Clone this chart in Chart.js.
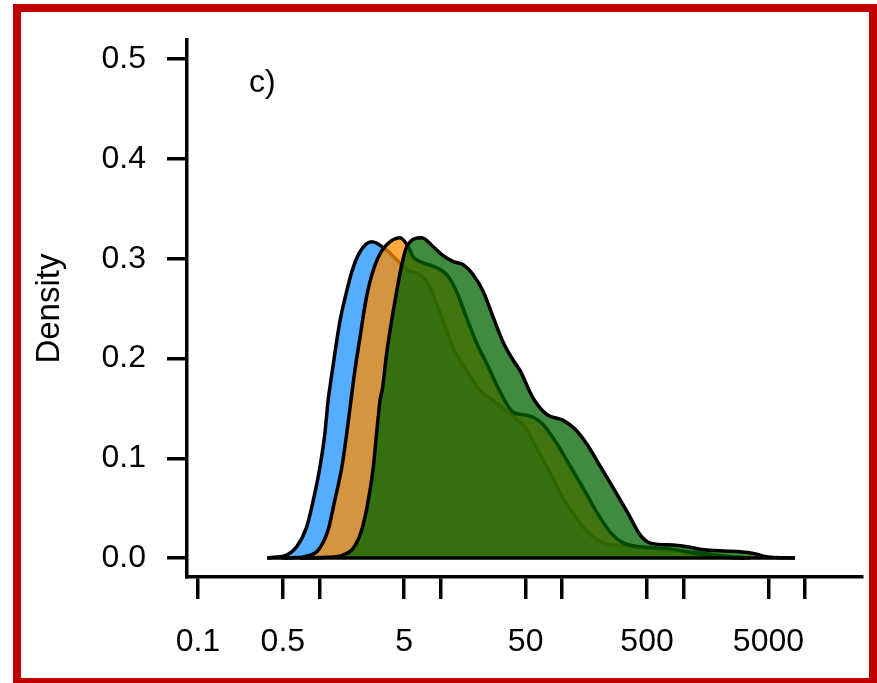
<!DOCTYPE html>
<html>
<head>
<meta charset="utf-8">
<script src="https://cdn.jsdelivr.net/npm/chart.js@4/dist/chart.umd.min.js"></script>
<style>
  html, body { margin: 0; padding: 0; background: #fff; }
  canvas { display: block; }
</style>
</head>
<body>
<canvas id="c" width="877" height="683"></canvas>
<script>
// ---- data ----
const blueX = [0.372,0.415,0.538,0.650,0.785,0.891,1.01,1.11,1.18,1.22,1.34,1.48,1.63,1.85,2.16,2.70,3.47,4.33,5.24,6.74,7.66,8.63,10.4,12.6,16.3,21.0,26.9,39.3,49.5,61.0,80.0,104,134,172,220,383,726,1365,2410,3520];
const blueY = [0,0.0007,0.003,0.0113,0.031,0.058,0.091,0.125,0.158,0.171,0.205,0.238,0.261,0.287,0.307,0.317,0.310,0.299,0.289,0.284,0.277,0.264,0.238,0.211,0.188,0.168,0.158,0.142,0.131,0.111,0.085,0.058,0.038,0.023,0.015,0.0113,0.008,0.005,0.0015,0];

const orangeX = [0.49,0.607,0.785,0.98,1.18,1.34,1.53,1.68,1.79,1.96,2.16,2.38,2.61,3.04,3.58,4.61,5.40,5.90,7.13,9.25,11.2,13.5,16.3,19.8,23.9,30.7,39.6,52.0,68.0,90.0,118,152,195,252,320,437,726,1194,1874,3205];
const orangeY = [0,0.0003,0.002,0.008,0.028,0.058,0.091,0.125,0.151,0.188,0.221,0.254,0.277,0.301,0.314,0.321,0.312,0.302,0.296,0.291,0.284,0.267,0.241,0.215,0.195,0.167,0.146,0.143,0.135,0.115,0.091,0.068,0.045,0.025,0.015,0.0113,0.0097,0.005,0.0013,0];

const greenX = [0.69,1.15,1.57,1.90,2.23,2.53,2.78,2.96,3.16,3.32,3.58,3.94,4.33,4.77,5.24,6.96,8.67,10.2,12.7,15.3,18.5,22.4,27.1,32.7,39.6,44.9,57.8,74.5,102,128,160,208,270,348,440,540,822,1061,1549,2916,3750,4831,8280];
const greenY = [0,0.0007,0.003,0.0097,0.028,0.058,0.091,0.125,0.158,0.171,0.205,0.238,0.267,0.294,0.312,0.321,0.312,0.304,0.297,0.294,0.284,0.267,0.241,0.216,0.198,0.188,0.160,0.144,0.138,0.129,0.114,0.091,0.068,0.045,0.023,0.0147,0.013,0.0113,0.008,0.0063,0.0047,0.0013,0];

const xTickValues = [0.1,0.5,1,5,10,50,100,500,1000,5000,10000];
const xTickLabels = ['0.1','0.5','','5','','50','','500','','5000',''];
const yTickValues = [0,0.1,0.2,0.3,0.4,0.5];
const yTickLabels = ['0.0','0.1','0.2','0.3','0.4','0.5'];
const yTitle = 'Density';
const panelLabel = 'c)';

// ---- chart ----
const FONT = "'Liberation Sans', Arial, Helvetica, sans-serif";
Chart.defaults.font.family = FONT;
Chart.defaults.color = '#000';

function zip(xs, ys) { return xs.map((x, i) => ({ x: x, y: ys[i] })); }

// closing baseline of the density polygons (from first start to last end)
const baseX = [Math.min(blueX[0], orangeX[0], greenX[0]), Math.max(blueX[blueX.length - 1], orangeX[orangeX.length - 1], greenX[greenX.length - 1])];
const baseY = [0, 0];

const frame = {
  id: 'frame',
  beforeDraw(chart) {
    const ctx = chart.ctx;
    ctx.save();
    ctx.fillStyle = '#fff';
    ctx.fillRect(0, 0, chart.width, chart.height);
    ctx.restore();
  },
  afterDraw(chart) {
    const ctx = chart.ctx;
    const a = chart.chartArea;
    ctx.save();
    ctx.font = '32px ' + FONT;
    ctx.fillStyle = '#000';
    ctx.textAlign = 'left';
    ctx.textBaseline = 'alphabetic';
    ctx.fillText(panelLabel, a.left + 62, a.top + 52);
    ctx.strokeStyle = '#C00000';
    ctx.lineWidth = 8;
    ctx.strokeRect(17, 8, 856, 674);
    ctx.restore();
  }
};

const common = { borderColor: '#000', borderWidth: 3.5, pointRadius: 0, fill: 'origin', cubicInterpolationMode: 'monotone' };

new Chart(document.getElementById('c'), {
  type: 'line',
  data: {
    datasets: [
      Object.assign({ label: 'a', data: zip(blueX, blueY), backgroundColor: 'rgba(30,144,255,0.75)', order: 2 }, common),
      Object.assign({ label: 'b', data: zip(orangeX, orangeY), backgroundColor: 'rgba(255,140,0,0.75)', order: 1 }, common),
      Object.assign({ label: 'c', data: zip(greenX, greenY), backgroundColor: 'rgba(0,100,0,0.75)', order: 0 }, common),
      { label: 'base', data: zip(baseX, baseY), borderColor: '#000', borderWidth: 3.5, pointRadius: 0, fill: false, order: -1 }
    ]
  },
  options: {
    responsive: false,
    animation: false,
    devicePixelRatio: 1,
    layout: { padding: { left: 0, right: 15, top: 38, bottom: 0 } },
    plugins: { legend: { display: false }, tooltip: { enabled: false } },
    scales: {
      x: {
        type: 'logarithmic',
        min: 0.0812,
        max: 29480,
        afterBuildTicks: (s) => { s.ticks = xTickValues.map(v => ({ value: v })); },
        afterFit: (s) => { s.height = 106; },
        ticks: {
          autoSkip: false, maxRotation: 0, minRotation: 0, padding: 24,
          font: { size: 32 }, color: '#000',
          callback: (v, i) => xTickLabels[i]
        },
        grid: { display: true, drawOnChartArea: false, drawTicks: true, tickLength: 22, color: '#000', lineWidth: 3.5 },
        border: { display: true, color: '#000', width: 3.5 }
      },
      y: {
        type: 'linear',
        min: -0.019,
        max: 0.519,
        afterBuildTicks: (s) => { s.ticks = yTickValues.map(v => ({ value: v })); },
        afterFit: (s) => { s.width = 187; },
        ticks: {
          autoSkip: false, padding: 21,
          font: { size: 32 }, color: '#000',
          callback: (v, i) => yTickLabels[i]
        },
        title: { display: true, text: yTitle, font: { size: 33 }, color: '#000', padding: { top: 30, bottom: 0 } },
        grid: { display: true, drawOnChartArea: false, drawTicks: true, tickLength: 20, color: '#000', lineWidth: 3.5 },
        border: { display: true, color: '#000', width: 3.5 }
      }
    }
  },
  plugins: [frame]
});
</script>
</body>
</html>
